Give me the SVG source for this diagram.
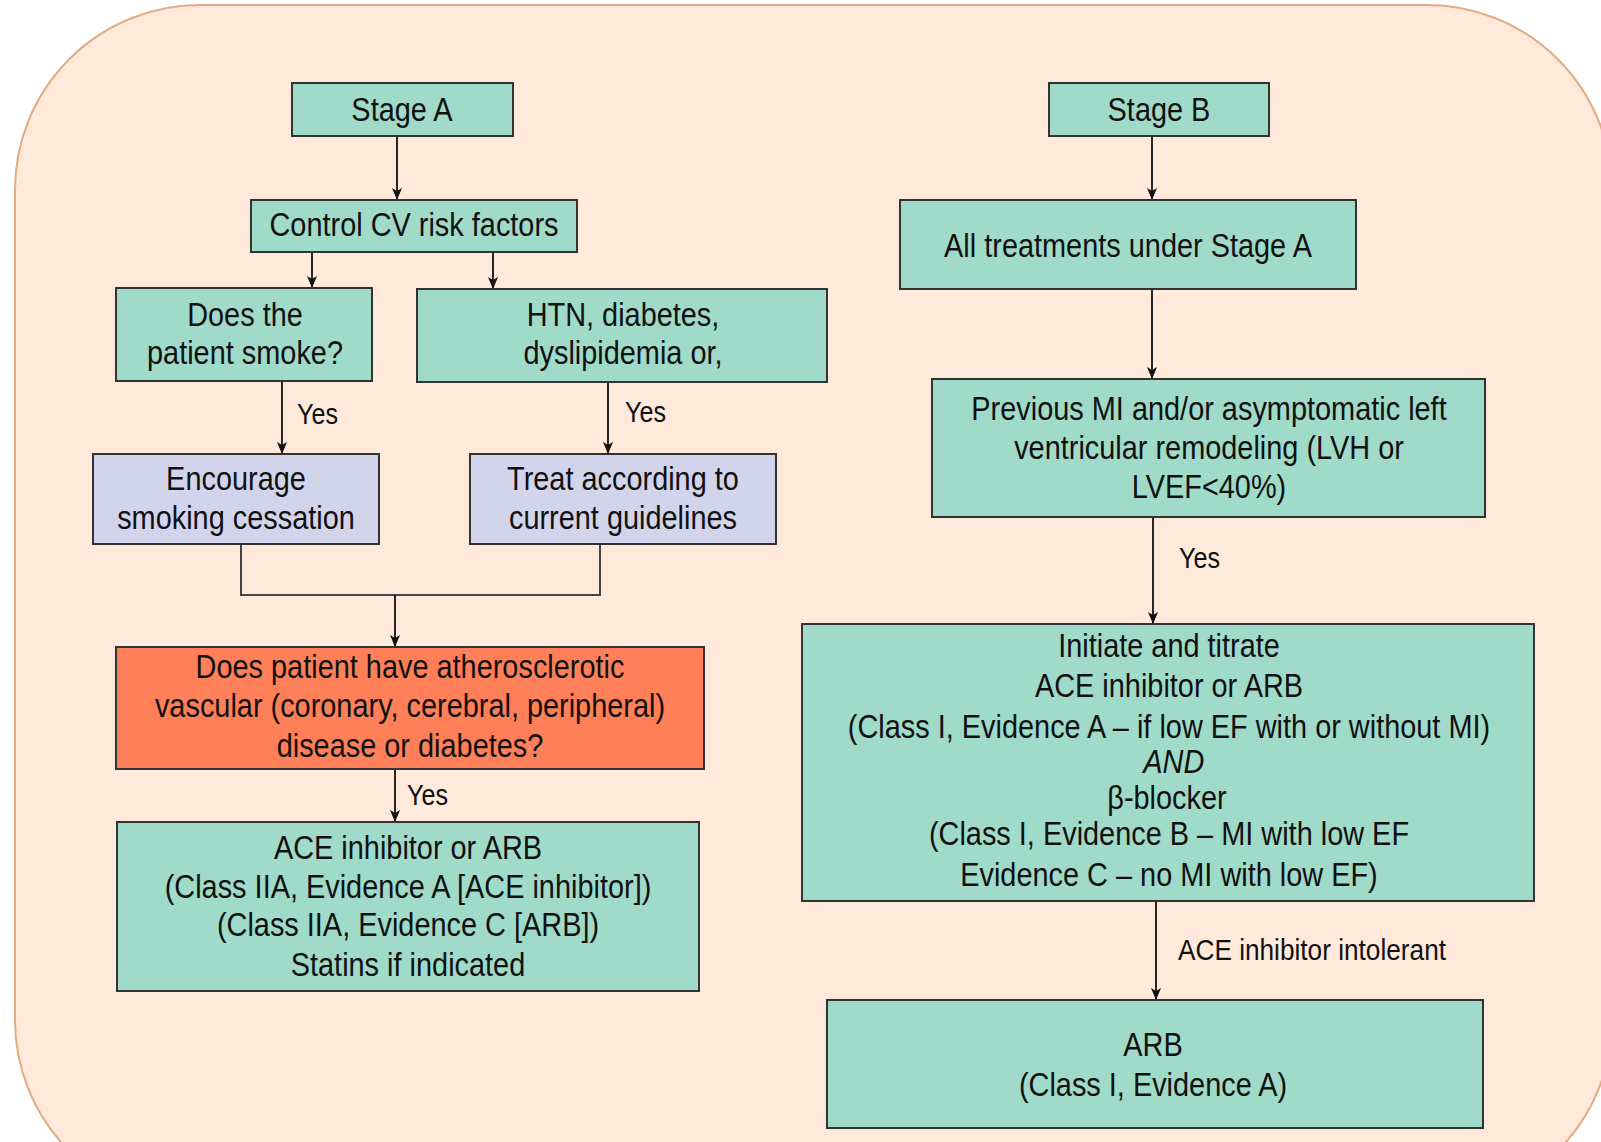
<svg xmlns="http://www.w3.org/2000/svg" width="1601" height="1142" viewBox="0 0 1601 1142">
  <defs>
    <marker id="arrow" viewBox="0 0 12 10" refX="12" refY="5" markerWidth="12" markerHeight="10" markerUnits="userSpaceOnUse" orient="auto">
      <path d="M0,0 L12,5 L0,10 L3,5 z" fill="#111"/>
    </marker>
    <style>
      .panel { fill: #fee9da; stroke: #e2ab80; stroke-width: 2; }
      .box { stroke: #333; stroke-width: 2; }
      .green { fill: #a0dac8; }
      .lav { fill: #d2d4ec; }
      .red { fill: #ff7f58; }
      .t { font-family: "Liberation Sans", Arial, sans-serif; font-size: 34px; fill: #111; text-anchor: middle;
           transform-box: fill-box; transform-origin: center; transform: scaleX(0.85); }
      .lbl { font-family: "Liberation Sans", Arial, sans-serif; font-size: 29px; fill: #111; }
      .edge { fill: none; stroke: #111; stroke-width: 1.8; }
      .join { fill: none; stroke: #444; stroke-width: 2; }
    </style>
  </defs>

  <!-- rounded background panel -->
  <rect class="panel" x="15" y="5" width="1597" height="1200" rx="185" ry="185"/>

  <!-- connectors -->
  <g id="connectors">
    <line class="edge" x1="397" y1="136" x2="397" y2="200" marker-end="url(#arrow)"/>
    <line class="edge" x1="312" y1="252" x2="312" y2="288" marker-end="url(#arrow)"/>
    <line class="edge" x1="493" y1="252" x2="493" y2="289" marker-end="url(#arrow)"/>
    <line class="edge" x1="282" y1="381" x2="282" y2="454" marker-end="url(#arrow)"/>
    <line class="edge" x1="608" y1="382" x2="608" y2="454" marker-end="url(#arrow)"/>
    <polyline class="join" points="241,544 241,595 600,595 600,544"/>
    <line class="edge" x1="395" y1="595" x2="395" y2="647" marker-end="url(#arrow)"/>
    <line class="edge" x1="395" y1="769" x2="395" y2="822" marker-end="url(#arrow)"/>
    <line class="edge" x1="1152" y1="136" x2="1152" y2="200" marker-end="url(#arrow)"/>
    <line class="edge" x1="1152" y1="289" x2="1152" y2="379" marker-end="url(#arrow)"/>
    <line class="edge" x1="1153" y1="517" x2="1153" y2="624" marker-end="url(#arrow)"/>
    <line class="edge" x1="1156" y1="901" x2="1156" y2="1000" marker-end="url(#arrow)"/>

    <text class="lbl" x="297" y="424" textLength="41" lengthAdjust="spacingAndGlyphs">Yes</text>
    <text class="lbl" x="625" y="422" textLength="41" lengthAdjust="spacingAndGlyphs">Yes</text>
    <text class="lbl" x="407" y="805" textLength="41" lengthAdjust="spacingAndGlyphs">Yes</text>
    <text class="lbl" x="1179" y="568" textLength="41" lengthAdjust="spacingAndGlyphs">Yes</text>
    <text class="lbl" x="1178" y="960" textLength="268" lengthAdjust="spacingAndGlyphs">ACE inhibitor intolerant</text>
  </g>

  <!-- Stage A column -->
  <g id="stage-a">
    <rect class="box green" x="292" y="83" width="221" height="53"/>
    <text class="t" x="402" y="121">Stage A</text>
  </g>
  <g id="control-cv">
    <rect class="box green" x="251" y="200" width="326" height="52"/>
    <text class="t" x="414" y="236">Control CV risk factors</text>
  </g>
  <g id="smoke">
    <rect class="box green" x="116" y="288" width="256" height="93"/>
    <text class="t" x="245" y="326">Does the</text>
    <text class="t" x="245" y="364">patient smoke?</text>
  </g>
  <g id="htn">
    <rect class="box green" x="417" y="289" width="410" height="93"/>
    <text class="t" x="623" y="326">HTN, diabetes,</text>
    <text class="t" x="623" y="364">dyslipidemia or,</text>
  </g>
  <g id="cessation">
    <rect class="box lav" x="93" y="454" width="286" height="90"/>
    <text class="t" x="236" y="490">Encourage</text>
    <text class="t" x="236" y="529">smoking cessation</text>
  </g>
  <g id="guidelines">
    <rect class="box lav" x="470" y="454" width="306" height="90"/>
    <text class="t" x="623" y="490">Treat according to</text>
    <text class="t" x="623" y="529">current guidelines</text>
  </g>
  <g id="vascular">
    <rect class="box red" x="116" y="647" width="588" height="122"/>
    <text class="t" x="410" y="678">Does patient have atherosclerotic</text>
    <text class="t" x="410" y="717">vascular (coronary, cerebral, peripheral)</text>
    <text class="t" x="410" y="757">disease or diabetes?</text>
  </g>
  <g id="ace-arb-a">
    <rect class="box green" x="117" y="822" width="582" height="169"/>
    <text class="t" x="408" y="859">ACE inhibitor or ARB</text>
    <text class="t" x="408" y="898">(Class IIA, Evidence A [ACE inhibitor])</text>
    <text class="t" x="408" y="936">(Class IIA, Evidence C [ARB])</text>
    <text class="t" x="408" y="976">Statins if indicated</text>
  </g>

  <!-- Stage B column -->
  <g id="stage-b">
    <rect class="box green" x="1049" y="83" width="220" height="53"/>
    <text class="t" x="1159" y="121">Stage B</text>
  </g>
  <g id="all-treatments">
    <rect class="box green" x="900" y="200" width="456" height="89"/>
    <text class="t" x="1128" y="257">All treatments under Stage A</text>
  </g>
  <g id="previous-mi">
    <rect class="box green" x="932" y="379" width="553" height="138"/>
    <text class="t" x="1209" y="420">Previous MI and/or asymptomatic left</text>
    <text class="t" x="1209" y="459">ventricular remodeling (LVH or</text>
    <text class="t" x="1209" y="498">LVEF&lt;40%)</text>
  </g>
  <g id="initiate">
    <rect class="box green" x="802" y="624" width="732" height="277"/>
    <text class="t" x="1169" y="657">Initiate and titrate</text>
    <text class="t" x="1169" y="697">ACE inhibitor or ARB</text>
    <text class="t" x="1169" y="738">(Class I, Evidence A – if low EF with or without MI)</text>
    <text class="t" x="1174" y="773" font-style="italic">AND</text>
    <text class="t" x="1167" y="809">β-blocker</text>
    <text class="t" x="1169" y="845">(Class I, Evidence B – MI with low EF</text>
    <text class="t" x="1169" y="886">Evidence C – no MI with low EF)</text>
  </g>
  <g id="arb">
    <rect class="box green" x="827" y="1000" width="656" height="128"/>
    <text class="t" x="1153" y="1056">ARB</text>
    <text class="t" x="1153" y="1096">(Class I, Evidence A)</text>
  </g>
</svg>
